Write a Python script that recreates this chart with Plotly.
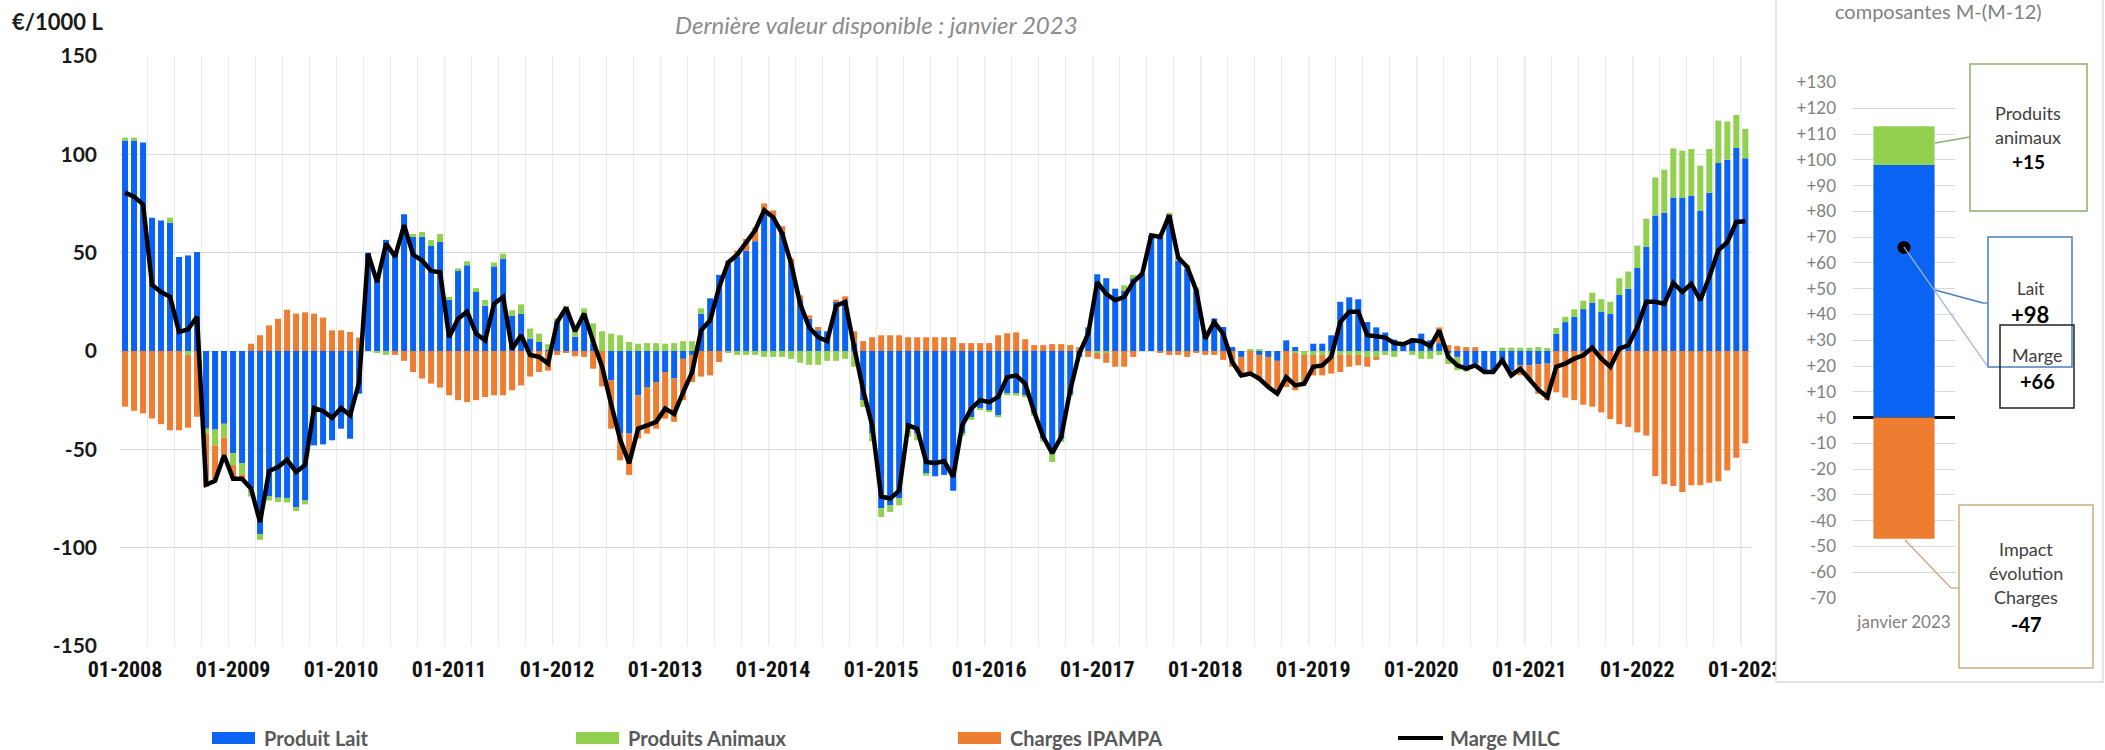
import plotly.graph_objects as go

# ---------------- data (monthly, 01-2008 .. 01-2023) ----------------
year_labels = ["01-2008", "01-2009", "01-2010", "01-2011", "01-2012", "01-2013", "01-2014", "01-2015",
               "01-2016", "01-2017", "01-2018", "01-2019", "01-2020", "01-2021", "01-2022", "01-2023"]

y_tickvals = [150, 100, 50, 0, -50, -100, -150]
y_ticktext = ["150", "100", "50", "0", "-50", "-100", "-150"]

produit_lait = [
    107, 107, 106, 67.7, 66.4, 65.2, 47.8, 48.6, 50.3, -39.5, -40, -37,
    -52, -57, -70, -93, -74, -74.6, -74.7, -79.3, -76, -48, -47.5, -45.4,
    -39.5, -44.6, -21.7, 50, 36, 56.5, 50, 69.5, 58, 58, 53.4, 55.5,
    26, 41, 43.6, 30, 23, 43, 47, 18, 19, 6.3, 4.6, 0.5,
    14.7, 21, 7.2, 15.7, 4, 0, -15, -42, -42, -22.5, -18.3, -15.8,
    -10.7, -14, -4, -2, 19, 26.8, 38.7, 44.6, 48, 51, 55.8, 69.4,
    68, 60.5, 44.6, 25.8, 16.4, 10.5, 10, 25, 25.8, 4, -25, -42,
    -80, -78.5, -75, -38.6, -42, -62.4, -63.7, -63, -71, -42, -34, -29,
    -30, -32.7, -21.7, -21.7, -22.5, -32, -44.6, -52, -44.6, -22, -3, 12,
    39, 37, 31.7, 30.8, 37, 39, 58.8, 58, 69.4, 46, 42, 30.8,
    8, 16.5, 12.2, 2, -3, 0, -2, -3, -5, 5.4, 2, 0,
    3.7, 3.7, 8, 25, 27.3, 26.3, 14.7, 12, 9.4, 5.8, 3, 6.3,
    8.8, 5.4, 4, -1, -3, -8, -6.4, -10, -10, -6.4, -10, -7.3,
    -7.3, -6.8, -6.4, 8.8, 14.7, 17.4, 21.3, 24.6, 20, 18.8, 28.5, 31.6,
    42.2, 53, 68.9, 70.3, 78, 78, 78.8, 71.5, 80.5, 95.6, 97.3, 103.2,
    98,
]

produits_animaux = [
    1.5, 1.5, 0, 0, 0, 2.6, 0, -2, 0, -2.5, -8, -7,
    -6, -6, -4, -3, -2, -2.2, -2.3, -2.1, -2, 0, 0, 0,
    0, 0, 0, 0, -1, -2, 0, 0, 1.5, 2.5, 3, 4,
    1.5, 1, 2, 2, 3, 2, 2.5, 2.7, 4.7, 5.1, 4.2, 3,
    2, 2, 4.2, 6, 10, 10, 8.8, 8, 4.6, 3.7, 4, 4,
    3.7, 4, 5, 5, 2.7, 0, 0, -1, -2, -2, -2, -3,
    -3, -3, -4, -6, -7, -7, -5, -5, -4, -8, -3.5, -4,
    -4.4, -3.4, -3.5, -5, -3.4, -1, 0, 0, 0, -1, -1, -1,
    -1, -1, -0.8, -1, -1, -1, -1.5, -4.4, -1.6, -1, 0, 0,
    -1, -1, 0, 2.6, 1.7, 0, 0, 0, 0.9, 2, 1.6, 1.5,
    0, 0, 0, 0, 0, 1, 1, 0, 0, 0, -1, -2,
    -2, -2, -2, -2, -2, -2, -3, -3, -2, -3, 0.5, -2,
    -4, -4, -2, -5.6, -6.8, -2.5, -2, 0, 0, 1.7, 1.7, 1.7,
    1.7, 2, 1.5, 2.9, 2.7, 3.8, 4.3, 5.1, 6.3, 6.2, 8.5, 8.8,
    11.4, 14.3, 19.3, 21.9, 25, 23.9, 23.9, 22.7, 22.2, 21.6, 19.4, 16.8,
    15,
]

charges_ipampa = [
    -28.3, -30.4, -31.7, -34.3, -37.2, -40.3, -40.3, -37, -33.4, -27, -18, -9,
    -7, -2, 3.7, 8, 13, 16.4, 21, 19, 19.7, 19, 17, 10.5,
    10.5, 9.7, 6.8, 0, 0, 0, -2, -5, -10.7, -14, -16.6, -18.6,
    -22.5, -25, -26, -25, -23.4, -22.5, -22.5, -20, -17.5, -13, -10.7, -10,
    -2, -1, -2.7, -3, -9, -18, -24.5, -13.6, -21, -22, -23.7, -23.7,
    -23.7, -22, -21, -13.8, -13, -12.4, -5.6, 1.4, 3, 6, 7, 5.6,
    3.5, 3, 2.5, 2.5, 1.7, 1.7, 0, 1.1, 2, 6, 5, 7,
    8, 8, 8, 7, 7, 7, 7, 7, 7, 4, 4, 4,
    4, 8, 9, 9.5, 6, 3, 3, 3.5, 3.5, 3, 2, -3,
    -3, -5, -8, -8, -3, 0, 0, -1, -2, -2, -3, -1,
    -2, -2, -4.5, -8, -10, -12.5, -13, -15.3, -16.7, -18.3, -19, -14.6,
    -10.4, -10.4, -9.5, -8.7, -6, -5.3, -5, -1.5, 0, 0, 0, 0,
    0, 0, 8, 3, 2.5, 2, 2, 0, 0, 0, -3, -5,
    -7.6, -15, -18.6, -21, -23.7, -25, -27.3, -28.3, -31.2, -34.6, -37.2, -38.6,
    -41.4, -43, -63.6, -67.8, -68.7, -71.7, -68.3, -68.3, -67, -66.2, -60.7, -54.3,
    -47,
]

marge_milc = [
    80.5, 78.5, 74.6, 33.6, 30, 27.6, 9.7, 11, 17.4, -68, -66, -53,
    -65, -65, -70, -87, -61, -59, -55.3, -61.5, -58, -29, -30.5, -34,
    -29, -32.7, -16, 49.5, 35, 54.6, 48, 64, 49, 46, 40.7, 40,
    7, 16.4, 20, 8.8, 5.4, 24, 27.5, 1, 8, -2, -3, -6.4,
    14.7, 22, 10, 19, 5, -8, -27, -45, -57, -39.5, -37.8, -36,
    -29.3, -32, -21, -10.7, 10.5, 15.6, 32.5, 45, 49, 55.4, 61.4, 71.5,
    68, 59.7, 44.4, 24, 12, 7, 5, 23, 25, 2, -20, -37.8,
    -74, -75, -71, -37.8, -39.5, -56.4, -57, -56, -64, -37.8, -29.3, -25,
    -26, -23.4, -13.3, -12.4, -16.6, -31, -43.7, -52, -43.7, -20, -1.4, 8.8,
    35, 29, 25.8, 27.5, 35, 39.3, 58.8, 58, 69, 47.5, 42.7, 30.8,
    6.3, 14.7, 8.8, -5.6, -12.4, -11.5, -14, -18.3, -21.7, -13.3, -17.5, -16.6,
    -8, -7.3, -3, 14.7, 20, 20, 8, 7.5, 6.8, 4, 3.4, 5.4,
    5, 2.4, 10.5, -3, -7.3, -9, -7.3, -10.7, -10.7, -4.7, -12.4, -9,
    -14, -19.7, -23.4, -8, -6.4, -3.9, -2.2, 1.7, -3.9, -8, 1.2, 2.9,
    12.2, 25, 25, 24, 34.6, 30, 34.2, 25.8, 37.6, 51.2, 55.4, 65.6,
    66,
]

# side panel : composantes M-(M-12), janvier 2023
panel_category = ["janvier 2023"]
panel_lait = [98]
panel_animaux = [15]
panel_charges = [-47]
panel_marge = [66]
panel_tickvals = [130, 120, 110, 100, 90, 80, 70, 60, 50, 40, 30, 20, 10, 0,
                  -10, -20, -30, -40, -50, -60, -70]
panel_ticktext = ["+130", "+120", "+110", "+100", "+90", "+80", "+70", "+60", "+50", "+40",
                  "+30", "+20", "+10", "+0", "-10", "-20", "-30", "-40", "-50", "-60", "-70"]

# ---------------- styling ----------------
W, H = 2105, 750
BLUE = "#0B63F3"
GREEN = "#92D050"
ORANGE = "#ED7D31"
GRID = "#d9d9d9"
SANS = "Lato, 'Open Sans', 'Liberation Sans', sans-serif"
NARROW = "'Liberation Sans Narrow', 'Arial Narrow', 'Roboto Condensed', 'Liberation Sans', sans-serif"


def px(x):
    return x / W


def py(y):
    return 1 - y / H


n = len(produit_lait)
x_idx = list(range(n))
year_pos = [12 * k for k in range(len(year_labels))]

fig = go.Figure()

for name, vals, col in [("Produit Lait", produit_lait, BLUE),
                        ("Produits Animaux", produits_animaux, GREEN),
                        ("Charges IPAMPA", charges_ipampa, ORANGE)]:
    fig.add_trace(go.Bar(x=x_idx, y=vals, name=name, marker=dict(color=col, line=dict(width=0)),
                         width=0.67, showlegend=False, xaxis="x", yaxis="y"))

fig.add_trace(go.Scatter(x=x_idx, y=marge_milc, name="Marge MILC", mode="lines",
                         line=dict(color="black", width=4.5), showlegend=False,
                         xaxis="x", yaxis="y"))

# panel bars
for vals, col in [(panel_lait, BLUE), (panel_animaux, GREEN), (panel_charges, ORANGE)]:
    fig.add_trace(go.Bar(x=[0], y=vals, marker=dict(color=col, line=dict(width=0)), width=0.6,
                         showlegend=False, xaxis="x2", yaxis="y2"))
fig.add_trace(go.Scatter(x=[0], y=panel_marge, mode="markers",
                         marker=dict(color="black", size=13), showlegend=False,
                         xaxis="x2", yaxis="y2"))

shapes = []
# year separator gridlines (slightly darker than monthly ones)
for k in range(1, len(year_labels)):
    shapes.append(dict(type="line", xref="x", yref="y domain", x0=12 * k - 0.5, x1=12 * k - 0.5,
                       y0=0, y1=1, line=dict(color="#d4d4d4", width=1), layer="below"))

# panel frame (white, covers the end of the last x label like in the source)
shapes.append(dict(type="rect", xref="paper", yref="paper", x0=px(1776), x1=px(1800),
                   y0=py(690), y1=py(655), fillcolor="white", line=dict(width=0), layer="above"))
shapes.append(dict(type="rect", xref="paper", yref="paper", x0=px(1776), x1=px(2103),
                   y0=py(682), y1=py(-5), line=dict(color="#d9d9d9", width=1.3), layer="above"))

# annotation boxes
boxes = [
    (1970, 64, 2087, 211, "#8FAF6E"),
    (1988, 237, 2072, 367, "#4A7EBB"),
    (2000, 325, 2074, 408, "#222222"),
    (1959, 505, 2093, 668, "#CFA97F"),
]
for x0, y0, x1, y1, c in boxes:
    shapes.append(dict(type="rect", xref="paper", yref="paper", x0=px(x0), x1=px(x1),
                       y0=py(y1), y1=py(y0), line=dict(color=c, width=1.5)))

# connectors
connectors = [
    ([(1935, 143), (1970, 137)], "#8FAF6E"),
    ([(1935, 290), (1983, 303), (1988, 303)], "#4A7EBB"),
    ([(1904, 247), (1988, 367)], "#9FB3CC"),
    ([(1905, 540), (1951, 588), (1959, 588)], "#CFA97F"),
]
for pts, c in connectors:
    for (xa, ya), (xb, yb) in zip(pts[:-1], pts[1:]):
        shapes.append(dict(type="line", xref="paper", yref="paper", x0=px(xa), y0=py(ya),
                           x1=px(xb), y1=py(yb), line=dict(color=c, width=1.3)))

# legend swatches
legend_items = [("Produit Lait", BLUE, 212, "rect"),
                ("Produits Animaux", GREEN, 576, "rect"),
                ("Charges IPAMPA", ORANGE, 958, "rect"),
                ("Marge MILC", "black", 1398, "line")]
annotations = []
for label, col, lx, kind in legend_items:
    if kind == "rect":
        shapes.append(dict(type="rect", xref="paper", yref="paper", x0=px(lx), x1=px(lx + 43),
                           y0=py(744), y1=py(732), fillcolor=col, line=dict(width=0)))
    else:
        shapes.append(dict(type="line", xref="paper", yref="paper", x0=px(lx), x1=px(lx + 45),
                           y0=py(738), y1=py(738), line=dict(color=col, width=4)))
    annotations.append(dict(text=label, xref="paper", yref="paper", x=px(lx + 50), y=py(738),
                            xanchor="left", yanchor="middle", showarrow=False,
                            font=dict(family=SANS, size=20, color="#595959", weight="bold")))


def txt(t, x, y, size, color="#404040", bold=False, italic=False, family=SANS):
    annotations.append(dict(text=t, xref="paper", yref="paper", x=px(x), y=py(y),
                            xanchor="center", yanchor="middle", showarrow=False,
                            font=dict(family=family, size=size, color=color,
                                      weight="bold" if bold else "normal",
                                      style="italic" if italic else "normal")))


annotations.append(dict(text="€/1000 L", xref="paper", yref="paper", x=px(10), y=py(21),
                        xanchor="left", yanchor="middle", showarrow=False,
                        font=dict(family=SANS, size=22, color="#1a1a1a", weight="bold")))
txt("Dernière valeur disponible : janvier 2023", 876, 25, 24, color="#8c8c8c", italic=True)
txt("composantes M-(M-12)", 1938, 11, 20, color="#7f7f7f")

txt("Produits", 2028, 113, 18)
txt("animaux", 2028, 137, 18)
txt("+15", 2028, 162, 19, color="black", bold=True)
txt("Lait", 2030, 288, 17)
txt("+98", 2030, 315, 22, color="black", bold=True)
txt("Marge", 2037, 355, 18)
txt("+66", 2037, 381, 20, color="black", bold=True)
txt("Impact", 2026, 549, 18)
txt("évolution", 2026, 573, 18)
txt("Charges", 2026, 597, 18)
txt("-47", 2026, 624, 20, color="black", bold=True)

fig.update_layout(
    template="none",
    width=W, height=H,
    margin=dict(l=0, r=0, t=0, b=0, pad=0, autoexpand=False),
    paper_bgcolor="white", plot_bgcolor="white",
    barmode="relative",
    showlegend=False,
    shapes=shapes,
    annotations=annotations,
    xaxis=dict(domain=[px(120), px(1751)], range=[-0.56, 180.63], anchor="y", automargin=False,
               tickmode="array", tickvals=year_pos, ticktext=year_labels,
               showgrid=False, zeroline=False, showline=False, ticks="",
               ticklabelstandoff=8,
               tickfont=dict(family=NARROW, size=22, color="#111111", weight="bold"),
               minor=dict(tickmode="linear", tick0=-0.5, dtick=3, showgrid=True,
                          gridcolor="#ebebeb", gridwidth=1, ticks="")),
    yaxis=dict(domain=[py(646), py(56)], range=[-150, 150], anchor="x", automargin=False,
               tickmode="array", tickvals=y_tickvals, ticktext=y_ticktext,
               showgrid=True, gridcolor=GRID, gridwidth=1, zeroline=False, showline=False,
               ticks="", ticklabelstandoff=22,
               tickfont=dict(family=SANS, size=21, color="#1a1a1a", weight="bold")),
    xaxis2=dict(domain=[px(1853), px(1955)], range=[-0.5, 0.5], anchor="y2", automargin=False,
                tickmode="array", tickvals=[0], ticktext=panel_category,
                showgrid=False, zeroline=False, showline=False, ticks="",
                ticklabelstandoff=12,
                tickfont=dict(family=SANS, size=17, color="#7f7f7f")),
    yaxis2=dict(domain=[py(598), py(82.5)], range=[-70, 130], anchor="x2", automargin=False,
                tickmode="array", tickvals=panel_tickvals, ticktext=panel_ticktext,
                showgrid=True, gridcolor=GRID, gridwidth=1,
                zeroline=True, zerolinecolor="black", zerolinewidth=3,
                showline=False, ticks="", ticklabelstandoff=16,
                tickfont=dict(family=SANS, size=17, color="#7f7f7f")),
)

fig.write_html("out.html", config={"displayModeBar": False},
               post_script="document.body.style.margin='0';document.body.style.overflow='hidden';")
